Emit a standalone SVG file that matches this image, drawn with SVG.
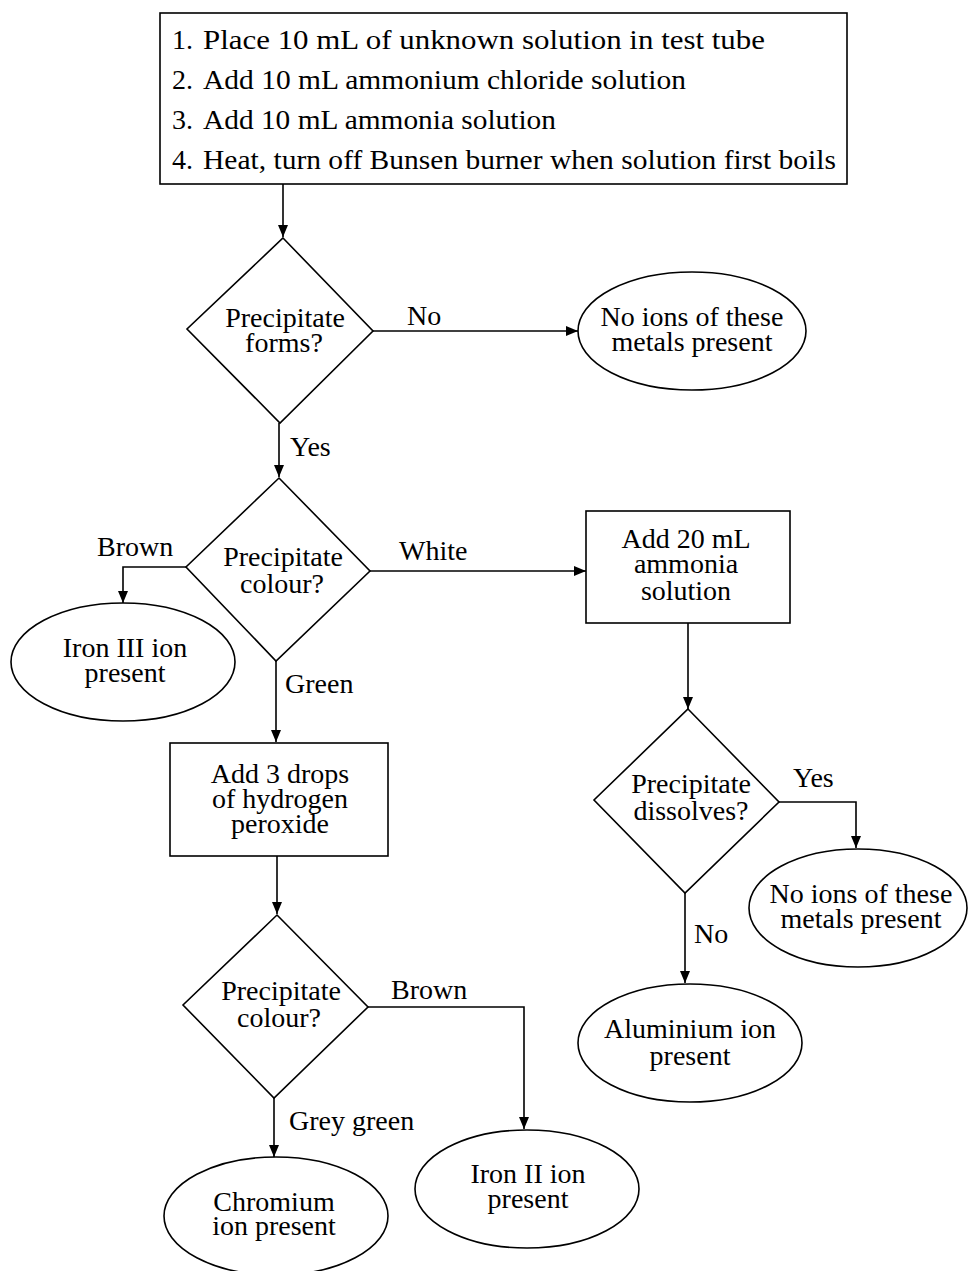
<svg xmlns="http://www.w3.org/2000/svg" width="968" height="1271" viewBox="0 0 968 1271">
<style>
text{font-family:"Liberation Serif","Times New Roman",serif;font-size:28px;fill:#000}
.c{text-anchor:middle}
.shape{fill:#fff;stroke:#000;stroke-width:1.6}
.conn path{fill:none;stroke:#000;stroke-width:1.6;marker-end:url(#ah)}
</style>
<defs>
<marker id="ah" markerUnits="userSpaceOnUse" markerWidth="12" markerHeight="12" refX="12" refY="5" orient="auto">
<path d="M0,0 L12,5 L0,10 z" fill="#000"/>
</marker>
</defs>
<rect width="968" height="1271" fill="#fff"/>
<g class="conn">
<path d="M283,184 V237"/>
<path d="M373,331 H578"/>
<path d="M279,423 V477"/>
<path d="M186,567 H123 V603"/>
<path d="M370,571 H586"/>
<path d="M276,661 V742"/>
<path d="M688,623 V709"/>
<path d="M779,802 H856 V848"/>
<path d="M685,893 V983"/>
<path d="M277,856 V914"/>
<path d="M368,1007 H524 V1129"/>
<path d="M274,1098 V1157"/>
<text x="407" y="325">No</text>
<text x="290" y="456">Yes</text>
<text x="97" y="556">Brown</text>
<text x="399" y="560">White</text>
<text x="285" y="693">Green</text>
<text x="793" y="787">Yes</text>
<text x="694" y="943">No</text>
<text x="391" y="999">Brown</text>
<text x="289" y="1130">Grey green</text>
</g>
<g id="start">
<rect class="shape" x="160" y="13" width="687" height="171"/>
<text x="172" y="49">1.</text><text x="203" y="49" textLength="562" lengthAdjust="spacingAndGlyphs">Place 10 mL of unknown solution in test tube</text>
<text x="172" y="89">2.</text><text x="203" y="89" textLength="483" lengthAdjust="spacingAndGlyphs">Add 10 mL ammonium chloride solution</text>
<text x="172" y="129">3.</text><text x="203" y="129" textLength="353" lengthAdjust="spacingAndGlyphs">Add 10 mL ammonia solution</text>
<text x="172" y="169">4.</text><text x="203" y="169" textLength="633" lengthAdjust="spacingAndGlyphs">Heat, turn off Bunsen burner when solution first boils</text>
</g>
<g id="d-forms">
<polygon class="shape" points="283,238 373,331 280,423 187,329"/>
<text class="c" x="285" y="327">Precipitate</text>
<text class="c" x="284" y="352">forms?</text>
</g>
<g id="e-none1">
<ellipse class="shape" cx="692" cy="331" rx="114" ry="59"/>
<text class="c" x="692" y="326">No ions of these</text>
<text class="c" x="692" y="351">metals present</text>
</g>
<g id="d-colour1">
<polygon class="shape" points="279,478 370,571 276,661 186,567"/>
<text class="c" x="283" y="566">Precipitate</text>
<text class="c" x="282" y="593">colour?</text>
</g>
<g id="e-iron3">
<ellipse class="shape" cx="123" cy="662" rx="112" ry="59"/>
<text class="c" x="125" y="657">Iron III ion</text>
<text class="c" x="125" y="682">present</text>
</g>
<g id="b-ammonia">
<rect class="shape" x="586" y="511" width="204" height="112"/>
<text class="c" x="686" y="548">Add 20 mL</text>
<text class="c" x="686" y="573">ammonia</text>
<text class="c" x="686" y="600">solution</text>
</g>
<g id="d-dissolves">
<polygon class="shape" points="688,709 779,802 685,893 594,800"/>
<text class="c" x="691" y="793">Precipitate</text>
<text class="c" x="691" y="820">dissolves?</text>
</g>
<g id="e-none2">
<ellipse class="shape" cx="858" cy="908" rx="109" ry="59"/>
<text class="c" x="861" y="903">No ions of these</text>
<text class="c" x="861" y="928">metals present</text>
</g>
<g id="e-aluminium">
<ellipse class="shape" cx="690" cy="1043" rx="112" ry="59"/>
<text class="c" x="690" y="1038">Aluminium ion</text>
<text class="c" x="690" y="1065">present</text>
</g>
<g id="b-peroxide">
<rect class="shape" x="170" y="743" width="218" height="113"/>
<text class="c" x="280" y="783">Add 3 drops</text>
<text class="c" x="280" y="808">of hydrogen</text>
<text class="c" x="280" y="833">peroxide</text>
</g>
<g id="d-colour2">
<polygon class="shape" points="277,915 368,1007 274,1098 183,1005"/>
<text class="c" x="281" y="1000">Precipitate</text>
<text class="c" x="279" y="1027">colour?</text>
</g>
<g id="e-iron2">
<ellipse class="shape" cx="527" cy="1189" rx="112" ry="59"/>
<text class="c" x="528" y="1183">Iron II ion</text>
<text class="c" x="528" y="1208">present</text>
</g>
<g id="e-chromium">
<ellipse class="shape" cx="276" cy="1216" rx="112" ry="59"/>
<text class="c" x="274" y="1211">Chromium</text>
<text class="c" x="274" y="1235">ion present</text>
</g>
</svg>
